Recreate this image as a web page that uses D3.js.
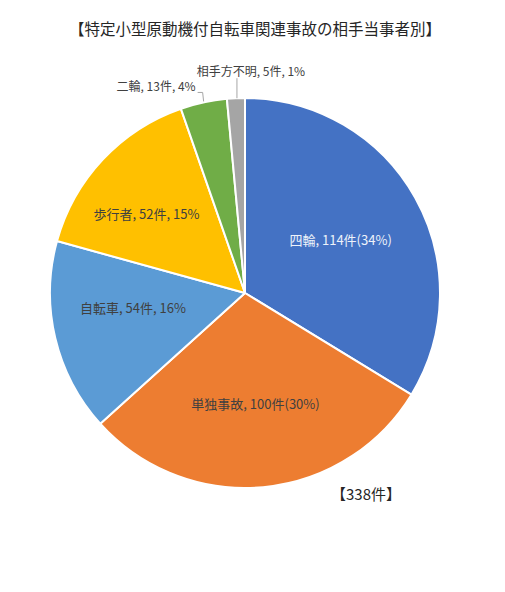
<!DOCTYPE html>
<html>
<head>
<meta charset="utf-8">
<script src="https://cdn.jsdelivr.net/npm/d3@7"></script>
<style>
  body { margin: 0; background: #fff; }
  svg text { font-family: "Noto Sans CJK JP", "Noto Sans", sans-serif; }
</style>
</head>
<body>
<div id="chart"></div>
<script>
// data
const categories = ["四輪", "単独事故", "自転車", "歩行者", "二輪", "相手方不明"];
const counts = [114, 100, 54, 52, 13, 5];
const percents = [34, 30, 16, 15, 4, 1];
const colors = ["#4472C4", "#ED7D31", "#5B9BD5", "#FFC000", "#70AD47", "#A5A5A5"];

const W = 505, H = 592;
const cx = 245, cy = 293, R = 195;

const svg = d3.select("#chart").append("svg")
    .attr("width", W)
    .attr("height", H);

// title
svg.append("text")
    .attr("x", 255)
    .attr("y", 28)
    .attr("text-anchor", "middle")
    .attr("dominant-baseline", "central")
    .attr("font-size", 15.5)
    .attr("fill", "#262626")
    .text("【特定小型原動機付自転車関連事故の相手当事者別】");

const data = categories.map((c, i) => ({ name: c, count: counts[i], pct: percents[i], color: colors[i] }));

const pie = d3.pie().sort(null).value(d => d.count);
const arcs = pie(data);

const arc = d3.arc().innerRadius(0).outerRadius(R);

const g = svg.append("g").attr("transform", `translate(${cx},${cy})`);

g.selectAll("path")
    .data(arcs)
    .enter()
    .append("path")
    .attr("d", arc)
    .attr("fill", d => d.data.color)
    .attr("stroke", "#fff")
    .attr("stroke-width", 2)
    .attr("stroke-linejoin", "round");

// label text: the two biggest use "(xx%)" style, others ", xx%"
function labelText(d, i) {
    if (i < 2) return `${d.name}, ${d.count}件(${d.pct}%)`;
    return `${d.name}, ${d.count}件, ${d.pct}%`;
}

// inside labels, along mid-angle
const inner = d3.arc().innerRadius(0).outerRadius(R * 1.16);
const insideNudge = [[-3, 2], [0, -2], [-2, -12], [-16, -2]];
arcs.slice(0, 4).forEach((d, i) => {
    const [x, y] = inner.centroid(d);
    g.append("text")
        .attr("x", x + insideNudge[i][0])
        .attr("y", y + insideNudge[i][1])
        .attr("text-anchor", "middle")
        .attr("dominant-baseline", "central")
        .attr("font-size", 13)
        .attr("fill", i === 0 ? "#eef2fa" : "#404040")
        .text(labelText(d.data, i));
});

// outside labels with leader lines
function edgePoint(a, r) {
    return [Math.sin(a) * r, -Math.cos(a) * r];
}

// 二輪
{
    const d = arcs[4];
    const mid = (d.startAngle + d.endAngle) / 2;
    const [ex, ey] = edgePoint(mid, R);
    const ty = ey - 10;
    g.append("path")
        .attr("d", `M${ex - 6},${ty} L${ex - 1},${ty} L${ex},${ey - 1}`)
        .attr("fill", "none")
        .attr("stroke", "#a6a6a6")
        .attr("stroke-width", 1);
    g.append("text")
        .attr("x", ex - 8)
        .attr("y", ty - 7)
        .attr("text-anchor", "end")
        .attr("dominant-baseline", "central")
        .attr("font-size", 12)
        .attr("fill", "#404040")
        .text(labelText(d.data, 4));
}

// 相手方不明
{
    const d = arcs[5];
    const mid = (d.startAngle + d.endAngle) / 2;
    const [ex, ey] = edgePoint(mid, R);
    g.append("line")
        .attr("x1", ex + 1).attr("y1", ey)
        .attr("x2", ex + 1).attr("y2", ey - 20)
        .attr("stroke", "#a6a6a6")
        .attr("stroke-width", 1);
    g.append("text")
        .attr("x", ex + 15)
        .attr("y", ey - 28)
        .attr("text-anchor", "middle")
        .attr("dominant-baseline", "central")
        .attr("font-size", 12)
        .attr("fill", "#404040")
        .text(labelText(d.data, 5));
}

// total
svg.append("text")
    .attr("x", 366)
    .attr("y", 493)
    .attr("text-anchor", "middle")
    .attr("dominant-baseline", "central")
    .attr("font-size", 15)
    .attr("fill", "#262626")
    .text(`【${d3.sum(counts)}件】`);
</script>
</body>
</html>
